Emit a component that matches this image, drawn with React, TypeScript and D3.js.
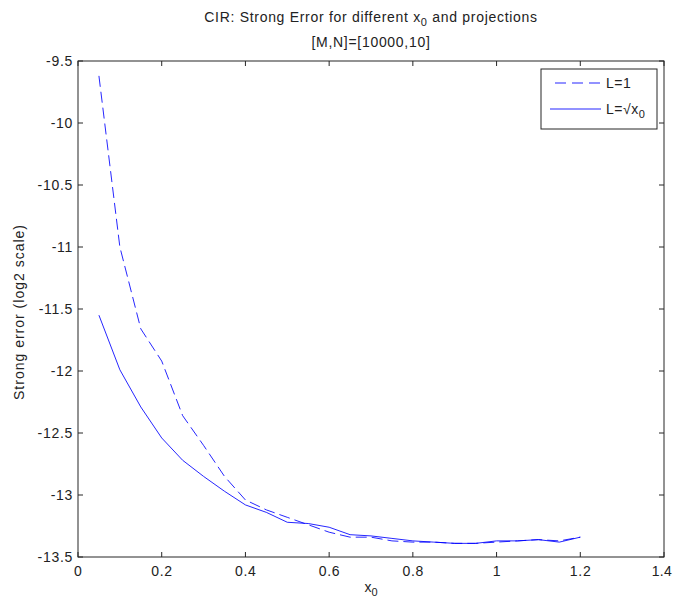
import React from "react";
import * as d3 from "d3";

const xValues = [0.05, 0.1, 0.15, 0.2, 0.25, 0.3, 0.35, 0.4, 0.45, 0.5, 0.55, 0.6, 0.65, 0.7, 0.75, 0.8, 0.85, 0.9, 0.95, 1.0, 1.05, 1.1, 1.15, 1.2];
const seriesL1 = [-9.62, -11.0, -11.66, -11.92, -12.36, -12.6, -12.85, -13.04, -13.12, -13.18, -13.24, -13.3, -13.34, -13.34, -13.37, -13.38, -13.38, -13.39, -13.39, -13.38, -13.37, -13.36, -13.37, -13.34];
const seriesSqrt = [-11.55, -11.99, -12.29, -12.54, -12.72, -12.85, -12.97, -13.08, -13.14, -13.22, -13.23, -13.26, -13.32, -13.33, -13.35, -13.37, -13.38, -13.39, -13.39, -13.37, -13.37, -13.36, -13.38, -13.34];
const xTicks = [0, 0.2, 0.4, 0.6, 0.8, 1, 1.2, 1.4];
const yTicks = [-9.5, -10, -10.5, -11, -11.5, -12, -12.5, -13, -13.5];

const W = 673, H = 604;
const left = 78, right = 664, top = 61, bottom = 557;
const font = "Arial, 'Liberation Sans', Helvetica, sans-serif";
const axisColor = "#262626";
const lineColor = "#0000ff";
const ls = 0.7;

export default function App() {
  const x = d3.scaleLinear().domain([0, 1.4]).range([left, right]);
  const y = d3.scaleLinear().domain([-13.5, -9.5]).range([bottom, top]);
  const line = d3.line<number>().x((_, i) => x(xValues[i])).y((d) => y(d));
  const tl = 5;
  return (
    <svg width={W} height={H} style={{ position: "absolute", left: 0, top: 0, background: "#fff" }}>
      <rect x={0} y={0} width={W} height={H} fill="#fff" />
      <rect x={left} y={top} width={right - left} height={bottom - top} fill="#fff" stroke={axisColor} strokeWidth={1} />
      {xTicks.map((t, i) => {
        const last = i === xTicks.length - 1;
        return (
          <g key={"x" + t}>
            <line x1={x(t)} x2={x(t)} y1={bottom} y2={bottom - tl} stroke={axisColor} />
            <line x1={x(t)} x2={x(t)} y1={top} y2={top + tl} stroke={axisColor} />
            <text
              x={last ? W - 1 : x(t) + ls / 2}
              y={bottom + 19}
              fontSize={14}
              fontFamily={font}
              textAnchor={last ? "end" : "middle"}
              letterSpacing={last ? 0.3 : ls}
              fill="#222"
            >
              {String(t)}
            </text>
          </g>
        );
      })}
      {yTicks.map((t) => (
        <g key={"y" + t}>
          <line x1={left} x2={left + tl} y1={y(t)} y2={y(t)} stroke={axisColor} />
          <line x1={right} x2={right - tl} y1={y(t)} y2={y(t)} stroke={axisColor} />
          <text x={left - 5} y={y(t) + 5} fontSize={14} fontFamily={font} textAnchor="end" letterSpacing={ls} fill="#222">{String(t)}</text>
        </g>
      ))}
      <path d={line(seriesL1) || ""} fill="none" stroke={lineColor} strokeWidth={1} strokeDasharray="11,5" opacity={0.85} />
      <path d={line(seriesSqrt) || ""} fill="none" stroke={lineColor} strokeWidth={1} opacity={0.85} />
      <text x={(left + right) / 2} y={22} fontSize={14} fontFamily={font} textAnchor="middle" letterSpacing={ls} fill="#222">
        CIR: Strong Error for different x<tspan fontSize={11} dy={4}>0</tspan><tspan dy={-4}> and projections</tspan>
      </text>
      <text x={(left + right) / 2} y={47} fontSize={14} fontFamily={font} textAnchor="middle" letterSpacing={ls} fill="#222">[M,N]=[10000,10]</text>
      <text x={(left + right) / 2} y={592} fontSize={14} fontFamily={font} textAnchor="middle" fill="#222">
        x<tspan fontSize={11} dy={4}>0</tspan>
      </text>
      <text transform={`translate(24,${(top + bottom) / 2 + 3}) rotate(-90)`} fontSize={14} fontFamily={font} textAnchor="middle" letterSpacing={1} fill="#222">Strong error (log2 scale)</text>
      <g>
        <rect x={541} y={69} width={116} height={60} fill="#fff" stroke={axisColor} />
        <line x1={555} x2={601} y1={83} y2={83} stroke={lineColor} strokeDasharray="11,6" opacity={0.85} />
        <text x={606} y={88} fontSize={14} fontFamily={font} letterSpacing={0.5} fill="#222">L=1</text>
        <line x1={550} x2={601} y1={109} y2={109} stroke={lineColor} opacity={0.85} />
        <text x={606} y={114} fontSize={14} fontFamily={font} letterSpacing={0.5} fill="#222">L=√x<tspan fontSize={11} dy={4}>0</tspan></text>
      </g>
    </svg>
  );
}
